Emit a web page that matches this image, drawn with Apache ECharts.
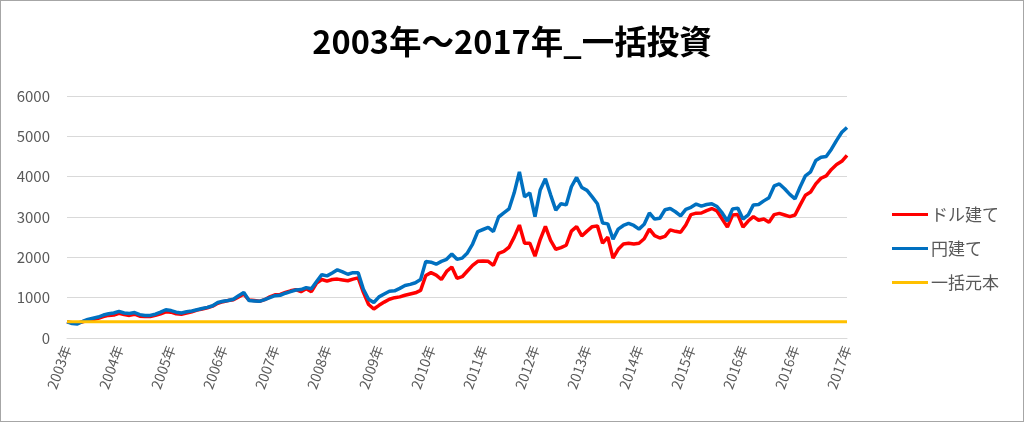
<!DOCTYPE html>
<html><head><meta charset="utf-8">
<script src="https://cdn.jsdelivr.net/npm/echarts@6/dist/echarts.min.js"></script>
<style>html,body{margin:0;padding:0;background:#fff}#c{width:1022px;height:420px;border:1px solid #a6a6a6}</style>
</head><body><div id="c"></div>
<script>
const titleText = '2003年～2017年_一括投資';
const seriesNames = ['ドル建て', '円建て', '一括元本'];
const tickLabels = ['2003年','2004年','2005年','2006年','2007年','2008年','2009年','2010年','2011年','2012年','2013年','2014年','2015年','2016年','2016年','2017年'];
const dollarValues = [
400,380,370,400,440,460,490,530,560,570,610,
580,560,590,540,530,530,560,600,650,640,
600,590,620,650,690,720,750,790,860,900,
930,950,1020,1090,940,930,910,950,1020,1070,
1080,1130,1170,1200,1150,1220,1150,1360,1450,1410,
1450,1460,1440,1420,1460,1490,1130,830,720,810,
890,960,1000,1020,1060,1090,1120,1180,1550,1620,
1560,1450,1650,1760,1480,1520,1660,1800,1900,1910,
1900,1800,2100,2150,2250,2500,2800,2350,2350,2030,
2440,2770,2420,2200,2240,2300,2650,2760,2530,2650,
2760,2780,2350,2500,1980,2200,2330,2350,2330,2350,
2460,2700,2540,2480,2520,2680,2645,2620,2800,3060,
3095,3100,3160,3210,3150,2950,2750,3050,3060,2750,
2900,3010,2920,2950,2870,3060,3090,3050,3010,3050,
3300,3540,3620,3820,3960,4020,4180,4300,4380,4530];
const yenValues = [
400,360,350,410,460,490,520,570,600,620,660,
620,610,630,580,560,560,590,640,700,680,
640,620,650,670,700,730,760,800,880,910,
930,960,1050,1130,930,920,910,950,1000,1050,
1060,1110,1150,1190,1200,1250,1220,1400,1570,1540,
1610,1690,1640,1580,1620,1620,1210,960,880,1020,
1090,1160,1170,1230,1300,1330,1370,1450,1900,1880,
1830,1900,1950,2080,1950,1980,2110,2330,2640,2690,
2740,2640,3000,3100,3200,3600,4120,3500,3600,3010,
3670,3950,3550,3170,3330,3300,3750,3980,3730,3660,
3500,3330,2850,2830,2450,2700,2790,2840,2790,2700,
2820,3100,2950,2970,3180,3210,3130,3030,3190,3240,
3320,3270,3310,3330,3260,3100,2900,3200,3220,2950,
3050,3300,3310,3400,3480,3770,3820,3700,3560,3450,
3750,4020,4120,4400,4480,4500,4680,4900,5100,5220];
const principalValue = 400;
const pointsPerLabel = 10;

const categories = dollarValues.map((_, i) => String(i));
const lastIndex = categories.length - 1;

const chart = echarts.init(document.getElementById('c'), null, {renderer: 'canvas'});
const font = '"Noto Sans CJK JP", "Noto Sans", sans-serif';
chart.setOption({
  animation: false,
  title: {
    text: titleText, left: 'center', top: 19,
    textStyle: {fontFamily: font, fontSize: 32.5, fontWeight: 'bold', color: '#000'}
  },
  legend: {
    orient: 'vertical', left: 886, top: 200,
    icon: 'rect', itemWidth: 36, itemHeight: 3, itemGap: 17,
    textStyle: {fontFamily: font, fontSize: 17, color: '#595959', padding: [0,0,0,-2]},
    data: seriesNames
  },
  grid: {left: 66, right: 176, top: 95, bottom: 83, containLabel: false},
  xAxis: {
    type: 'category', data: categories, boundaryGap: false,
    axisLine: {lineStyle: {color: '#d9d9d9', width: 1}},
    axisTick: {show: false},
    axisLabel: {
      interval: pointsPerLabel - 1, rotate: 70, margin: 8,
      fontFamily: font, fontSize: 14, color: '#595959',
      formatter: (v, idx) => tickLabels[Math.round(idx / pointsPerLabel)]
    },
    splitLine: {show: false}
  },
  yAxis: {
    type: 'value', min: 0, max: 6000, interval: 1000,
    axisLine: {show: false}, axisTick: {show: false},
    axisLabel: {fontFamily: font, fontSize: 15, color: '#595959', margin: 17,
      formatter: (v) => String(v)},
    splitLine: {lineStyle: {color: '#d9d9d9', width: 1}}
  },
  series: [
    {name: seriesNames[0], type: 'line', data: dollarValues, showSymbol: false, symbol: 'none',
     lineStyle: {color: '#ff0000', width: 3.5}, itemStyle: {color: '#ff0000'}, z: 2},
    {name: seriesNames[1], type: 'line', data: yenValues, showSymbol: false, symbol: 'none',
     lineStyle: {color: '#0070c0', width: 3.5}, itemStyle: {color: '#0070c0'}, z: 3},
    {name: seriesNames[2], type: 'line', data: [[0, principalValue], [lastIndex, principalValue]], showSymbol: false, symbol: 'none',
     lineStyle: {color: '#ffc000', width: 3}, itemStyle: {color: '#ffc000'}, z: 4}
  ]
});
</script></body></html>
